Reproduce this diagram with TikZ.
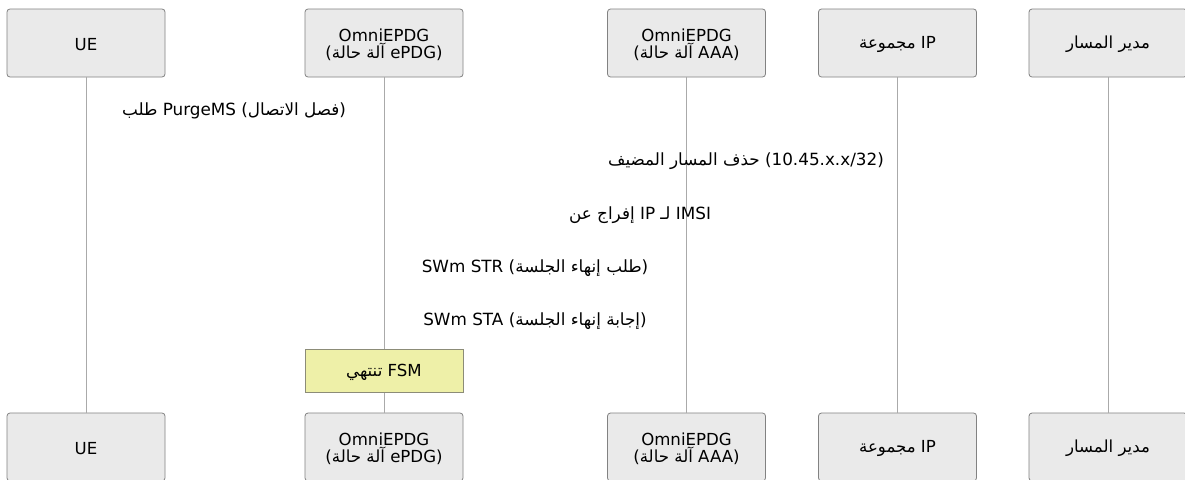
\documentclass[tikz,border=0pt]{standalone}
\usepackage{fontspec}
\setmainfont{DejaVu Sans}
\newfontfamily\arabicfont[Script=Arabic]{DejaVu Sans}
\newcommand\arab[1]{{\arabicfont #1}}
\TeXXeTstate=1
\definecolor{actorfill}{RGB}{234,234,234}
\definecolor{actorline}{RGB}{130,130,130}
\definecolor{lifeline}{RGB}{170,170,170}
\definecolor{notefill}{RGB}{238,240,168}
\definecolor{noteline}{RGB}{140,140,120}
\tikzset{
  actor/.style={draw=actorline, fill=actorfill, rounded corners=3pt, minimum width=158pt, minimum height=68pt, inner sep=0pt, align=center, font=\fontsize{16.6}{15}\selectfont, line width=0.8pt},
  life/.style={draw=lifeline, line width=0.9pt},
  msg/.style={font=\fontsize{16.8}{18}\selectfont, inner sep=0pt},
  notebox/.style={draw=noteline, fill=notefill, minimum width=158pt, minimum height=43pt, inner sep=0pt, font=\fontsize{16.6}{18}\selectfont, line width=0.8pt},
  lbl/.style={inner sep=0pt, align=center, font=\fontsize{16.6}{15}\selectfont}
}
\begin{document}
\begin{tikzpicture}[x=1pt,y=-1pt]
\useasboundingbox[fill=white] (0,0) rectangle (1185,479);
% top actors
\node[actor] (ue) at (86,43) {};
\node[lbl] at ([yshift=-1.5pt]ue.center) {UE};
\node[actor] (epdg) at (384,43) {};
\node[lbl] at ([yshift=-2pt]epdg.center) {OmniEPDG\\(\arab{\beginR آلة حالة\endR} ePDG)};
\node[actor] (aaa) at (686.5,43) {};
\node[lbl] at ([yshift=-2pt]aaa.center) {OmniEPDG\\(\arab{\beginR آلة حالة\endR} AAA)};
\node[actor] (ip) at (897.5,43) {};
\node[lbl] at ([yshift=-1pt]ip.center) {\arab{مجموعة} IP};
\node[actor] (pm) at (1108,43) {};
\node[lbl] at ([yshift=-1pt]pm.center) {\arab{\beginR مدير المسار\endR}};
% bottom actors
\node[actor] (ueb) at (86,447) {};
\node[lbl] at ([yshift=-1.5pt]ueb.center) {UE};
\node[actor] (epdgb) at (384,447) {};
\node[lbl] at ([yshift=-2pt]epdgb.center) {OmniEPDG\\(\arab{\beginR آلة حالة\endR} ePDG)};
\node[actor] (aaab) at (686.5,447) {};
\node[lbl] at ([yshift=-2pt]aaab.center) {OmniEPDG\\(\arab{\beginR آلة حالة\endR} AAA)};
\node[actor] (ipb) at (897.5,447) {};
\node[lbl] at ([yshift=-1pt]ipb.center) {\arab{مجموعة} IP};
\node[actor] (pmb) at (1108,447) {};
\node[lbl] at ([yshift=-1pt]pmb.center) {\arab{\beginR مدير المسار\endR}};
% lifelines
\draw[life] (ue) -- (ueb);
\draw[life] (epdg) -- (epdgb);
\draw[life] (aaa) -- (aaab);
\draw[life] (ip) -- (ipb);
\draw[life] (pm) -- (pmb);
% messages
\node[msg] (m1) at (234,110.5) {\arab{طلب} PurgeMS (\arab{\beginR فصل الاتصال\endR})};
\node[msg] (m2) at (746,161.5) {\arab{\beginR حذف المسار المضيف\endR} (10.45.x.x/32)};
\node[msg] (m3) at (640,215.5) {\arab{\beginR إفراج عن\endR} IP \arab{لـ} IMSI};
\node[msg] (m4) at (535,268.5) {SWm STR (\arab{\beginR طلب إنهاء الجلسة\endR})};
\node[msg] (m5) at (535,321.5) {SWm STA (\arab{\beginR إجابة إنهاء الجلسة\endR})};
% note
\node[notebox] (fsm) at (384,370.5) {};
\node[lbl] at ([yshift=-2pt]fsm.center) {\arab{تنتهي} FSM};
\end{tikzpicture}
\end{document}
